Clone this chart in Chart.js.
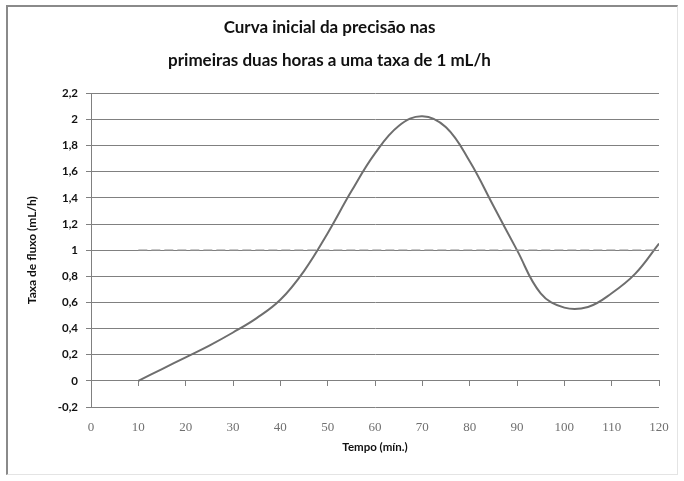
<!DOCTYPE html>
<html>
<head>
<meta charset="utf-8">
<script src="https://cdn.jsdelivr.net/npm/chart.js@4/dist/chart.umd.min.js"></script>
<style>
  html, body { margin: 0; padding: 0; background: #fff; }
  #wrap { position: relative; width: 684px; height: 481px; }
  #frame { position: absolute; left: 6px; top: 5px; width: 672px; height: 470px;
           border-top: 2px solid #8a8a8a; border-left: 2px solid #8a8a8a;
           border-right: 1px solid #e4e4e4; border-bottom: 1px solid #e4e4e4;
           box-sizing: border-box; pointer-events: none; }
  canvas { position: absolute; left: 0; top: 0; }
</style>
</head>
<body>
<div id="wrap">
  <canvas id="c" width="684" height="481"></canvas>
  <div id="frame"></div>
</div>
<script>
// ---- data ----
const titleLines = ['Curva inicial da precisão nas', 'primeiras duas horas a uma taxa de 1 mL/h'];
const xTitle = 'Tempo (mín.)';
const yTitle = 'Taxa de fluxo (mL/h)';
const timeMin = [10, 15, 20, 25, 30, 35, 40, 45, 50, 55, 60, 65, 70, 75, 80, 85, 90, 95, 100, 105, 110, 115, 120];
const flowRate = [0, 0.09, 0.18, 0.27, 0.37, 0.48, 0.62, 0.84, 1.13, 1.45, 1.74, 1.95, 2.025, 1.94, 1.68, 1.34, 1.0, 0.67, 0.56, 0.565, 0.67, 0.82, 1.05];
const targetTime = [10, 120];
const targetRate = [1, 1];
const xTickLabels = ['0','10','20','30','40','50','60','70','80','90','100','110','120'];
const yTickLabels = ['-0,2','0','0,2','0,4','0,6','0,8','1','1,2','1,4','1,6','1,8','2','2,2'];

const curve = timeMin.map((t, i) => ({ x: t, y: flowRate[i] }));
const target = targetTime.map((t, i) => ({ x: t, y: targetRate[i] }));

const FONT = 'Lato, "Open Sans", sans-serif';

new Chart(document.getElementById('c'), {
  type: 'line',
  data: {
    datasets: [
      { data: target, borderColor: '#8e8e8e', borderWidth: 1.5, borderDash: [9, 4],
        pointRadius: 0, fill: false, xAxisID: 'x', yAxisID: 'y' },
      { data: curve, borderColor: '#6e6e6e', borderWidth: 2, pointRadius: 0,
        tension: 0.4, fill: false, xAxisID: 'x', yAxisID: 'y' }
    ]
  },
  options: {
    responsive: false,
    animation: false,
    layout: { padding: { left: 0, right: 25, top: 0, bottom: 0 } },
    plugins: {
      legend: { display: false },
      tooltip: { enabled: false },
      title: {
        display: true,
        text: titleLines,
        color: '#111',
        font: { family: FONT, size: 17, weight: 'bold', lineHeight: 1.95 },
        padding: { top: 11, bottom: 16 }
      }
    },
    scales: {
      x: {
        type: 'linear', position: 'bottom', min: 0, max: 120,
        afterFit: s => { s.height = 74; },
        grid: { display: false, drawTicks: false },
        border: { display: false },
        ticks: {
          stepSize: 10, padding: 13, color: '#707070',
          font: { family: '"Liberation Serif", serif', size: 13 },
          maxRotation: 0, autoSkip: false,
          callback: (v, i) => xTickLabels[i]
        },
        title: { display: true, text: xTitle, color: '#111',
          font: { family: FONT, size: 11.5, weight: 'bold' }, padding: { top: 27, bottom: 27 } }
      },
      x2: {
        type: 'linear', position: { y: 0 }, min: 0, max: 120,
        grid: { drawOnChartArea: false, drawTicks: true, tickLength: 5, color: '#808080' },
        border: { display: true, color: '#808080', width: 1 },
        ticks: { stepSize: 10, display: false }
      },
      y: {
        type: 'linear', position: 'left', min: -0.2, max: 2.2,
        afterFit: s => { s.width = 91; },
        grid: { color: '#808080', lineWidth: 1, drawTicks: true, tickLength: 5 },
        border: { display: true, color: '#808080', width: 1 },
        ticks: {
          stepSize: 0.2, padding: 8, color: '#111',
          font: { family: FONT, size: 11.5, weight: 'bold' },
          callback: (v, i) => yTickLabels[i]
        },
        title: { display: true, text: yTitle, color: '#111',
          font: { family: FONT, size: 12, weight: 'bold' }, padding: { top: 25, bottom: 0 } }
      }
    }
  }
});
</script>
</body>
</html>
